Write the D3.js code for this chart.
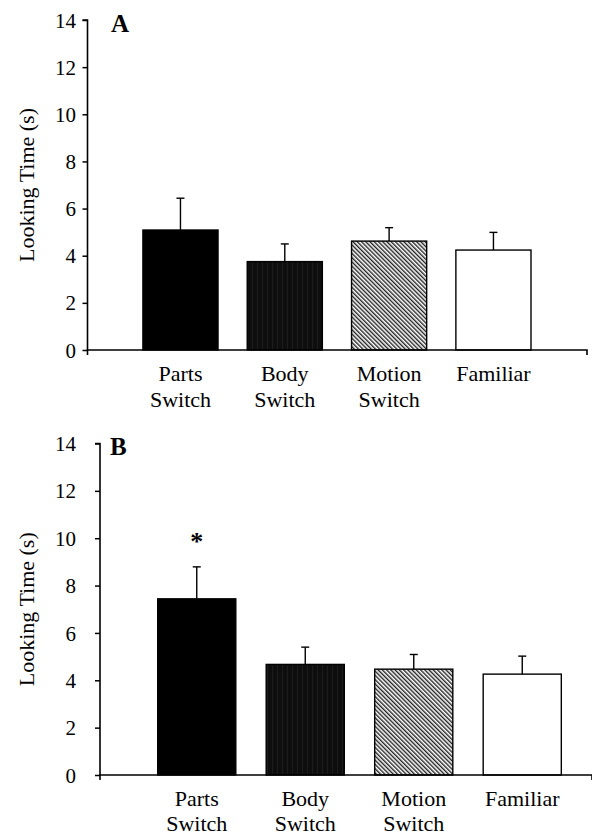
<!DOCTYPE html>
<html lang="en">
<head>
<meta charset="UTF-8">
<title>Looking Time</title>
<script src="https://d3js.org/d3.v7.min.js"></script>
<style>
    body{
        margin: 0;
        background: #fff;
    }
    text{
        font-family: "Liberation Serif", "Times New Roman", serif;
        fill: #000;
    }
</style>
</head>
<body>
<svg id="main" width="592" height="837"></svg>
<script>
    // values
    const categories = ["Parts Switch", "Body Switch", "Motion Switch", "Familiar"]
    const meansA = [5.09, 3.75, 4.62, 4.24]
    const errA = [1.35, 0.75, 0.57, 0.75]
    const meansB = [7.44, 4.67, 4.47, 4.26]
    const errB = [1.35, 0.73, 0.62, 0.76]
    const starsB = ["*", "", "", ""]
    const yTicks = [0, 2, 4, 6, 8, 10, 12, 14]
    const fills = ["#000", "url(#dark)", "url(#hatch)", "#fff"]

    const svg = d3.select("#main")
    const defs = svg.append("defs")

    // grainy dark fill of the body bars
    const dark = defs.append("pattern")
        .attr("id", "dark")
        .attr("patternUnits", "userSpaceOnUse")
        .attr("width", 5).attr("height", 5)
    dark.append("rect").attr("width", 5).attr("height", 5).attr("fill", "#0e0e0e")
    dark.append("rect").attr("x", 2).attr("width", 1).attr("height", 5).attr("fill", "#1c1c1c")

    // diagonal hatch of the motion bars
    const hatch = defs.append("pattern")
        .attr("id", "hatch")
        .attr("patternUnits", "userSpaceOnUse")
        .attr("width", 3).attr("height", 3)
        .attr("patternTransform", "rotate(-45)")
    hatch.append("rect").attr("width", 3).attr("height", 3).attr("fill", "#fff")
    hatch.append("rect").attr("width", 1.4).attr("height", 3).attr("fill", "#222")

    const panels = [
        {name: "A", means: meansA, err: errA, stars: ["", "", "", ""],
         axisX: 87.5, axisEnd: 587, yTop: 20, yBottom: 350,
         bandLeft: 128.3, bandRight: 545.6, tickLabelX: 76, labelDy: 31, lineGap: 26, letterX: 111, letterY: 32},
        {name: "B", means: meansB, err: errB, stars: starsB,
         axisX: 100, axisEnd: 592, yTop: 443.5, yBottom: 775,
         bandLeft: 142.5, bandRight: 576.5, tickLabelX: 76, labelDy: 31, lineGap: 25, letterX: 110, letterY: 455}
    ]

    panels.forEach(p => {
        const g = svg.append("g")
        const y = d3.scaleLinear().domain([0, 14]).range([p.yBottom, p.yTop])
        const x = d3.scaleBand().domain(categories)
            .range([p.bandLeft, p.bandRight])
            .paddingInner(0.28).paddingOuter(0.14)

        // y axis
        const yAxis = g.append("g")
            .attr("transform", "translate(" + p.axisX + ",0)")
            .call(d3.axisLeft(y).tickValues(yTicks).tickSize(5).tickFormat(d3.format("d")))
        yAxis.select(".domain").attr("stroke", "#000").attr("stroke-width", 1.6)
            .attr("d", "M-5," + p.yTop + "H0V" + p.yBottom)
        yAxis.selectAll(".tick line").attr("stroke", "#000").attr("stroke-width", 1.5)
        yAxis.selectAll(".tick text")
            .attr("x", p.tickLabelX - p.axisX)
            .attr("dy", "0.34em")
            .attr("font-family", "Liberation Serif")
            .attr("font-size", 21)
            .attr("fill", "#000")

        g.append("text")
            .attr("transform", "translate(26," + (p.yTop + p.yBottom) / 2 + ") rotate(-90)")
            .attr("text-anchor", "middle")
            .attr("dominant-baseline", "central")
            .attr("font-size", 22)
            .text("Looking Time (s)")

        // bars
        g.selectAll(".bar")
            .data(categories)
            .join("rect")
            .attr("class", "bar")
            .attr("x", d => x(d))
            .attr("width", x.bandwidth())
            .attr("y", (d, i) => y(p.means[i]))
            .attr("height", (d, i) => y(0) - y(p.means[i]))
            .attr("fill", (d, i) => fills[i])
            .attr("stroke", "#000")
            .attr("stroke-width", 1.4)

        // error bars, upper half only
        const eb = g.selectAll(".err")
            .data(categories)
            .join("g")
            .attr("class", "err")
            .attr("stroke", "#000")
            .attr("stroke-width", 1.4)
        eb.append("line")
            .attr("x1", d => x(d) + x.bandwidth() / 2)
            .attr("x2", d => x(d) + x.bandwidth() / 2)
            .attr("y1", (d, i) => y(p.means[i]))
            .attr("y2", (d, i) => y(p.means[i] + p.err[i]))
        eb.append("line")
            .attr("x1", d => x(d) + x.bandwidth() / 2 - 4)
            .attr("x2", d => x(d) + x.bandwidth() / 2 + 4)
            .attr("y1", (d, i) => y(p.means[i] + p.err[i]))
            .attr("y2", (d, i) => y(p.means[i] + p.err[i]))

        // significance marks
        g.selectAll(".star")
            .data(categories)
            .join("text")
            .attr("class", "star")
            .attr("x", d => x(d) + x.bandwidth() / 2)
            .attr("y", (d, i) => y(p.means[i] + p.err[i]) - 17)
            .attr("text-anchor", "middle")
            .attr("font-size", 26)
            .attr("font-weight", "bold")
            .text((d, i) => p.stars[i])

        // x axis with end ticks
        g.append("path")
            .attr("d", "M" + p.axisX + "," + (p.yBottom + 5) + "V" + p.yBottom + "H" + p.axisEnd + "V" + (p.yBottom + 5))
            .attr("fill", "none")
            .attr("stroke", "#000")
            .attr("stroke-width", 1.6)

        // category labels, two lines
        const lab = g.selectAll(".cat")
            .data(categories)
            .join("text")
            .attr("class", "cat")
            .attr("text-anchor", "middle")
            .attr("font-size", 22)
        lab.selectAll("tspan")
            .data(d => d.split(" ").map(w => ({w: w, c: x(d) + x.bandwidth() / 2})))
            .join("tspan")
            .attr("x", d => d.c)
            .attr("y", (d, i) => p.yBottom + p.labelDy + i * p.lineGap)
            .text(d => d.w)

        // panel letter
        g.append("text")
            .attr("x", p.letterX)
            .attr("y", p.letterY)
            .attr("font-size", 25)
            .attr("font-weight", "bold")
            .text(p.name)
    })
</script>
</body>
</html>
